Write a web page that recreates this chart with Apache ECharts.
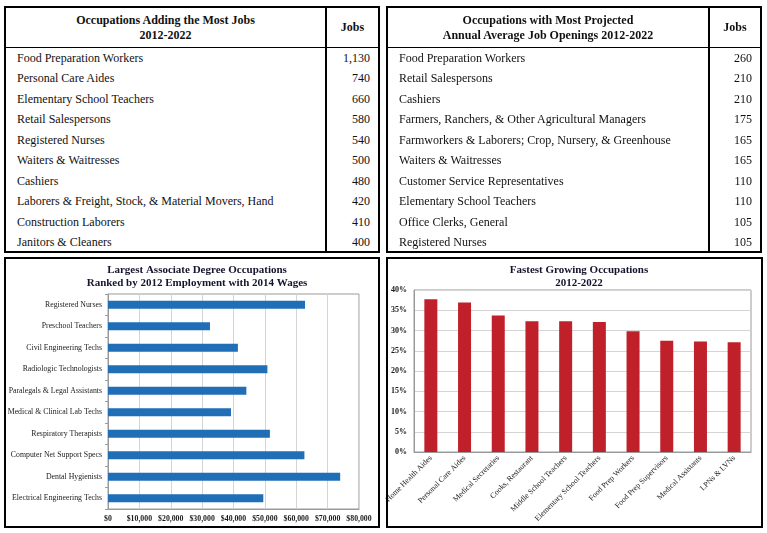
<!DOCTYPE html>
<html>
<head>
<meta charset="utf-8">
<script src="https://cdn.jsdelivr.net/npm/echarts/dist/echarts.min.js"></script>
<style>
  html, body { margin:0; padding:0; background:#fff; }
  body { width:767px; height:533px; position:relative; overflow:hidden; font-family:'Liberation Serif','Times New Roman',serif; }
  #chart { position:absolute; left:0; top:0; width:767px; height:533px; }
  .box { position:absolute; border:2px solid #000; box-sizing:border-box; pointer-events:none; }
  .tbl { position:absolute; border:2px solid #000; box-sizing:border-box; color:#111; background:#fff; }
  .tbl .hdr { position:absolute; left:0; top:0; right:0; height:39px; border-bottom:1px solid #000; }
  .tbl .htitle { position:absolute; top:0; height:39px; display:flex; align-items:center; justify-content:center; text-align:center; font-weight:bold; font-size:12px; line-height:15px; }
  .tbl .div { position:absolute; top:0; bottom:0; width:2px; background:#000; }
  .tbl .row { position:absolute; left:0; right:0; height:20.5px; line-height:20.5px; font-size:12px; }
  .tbl .row .n { position:absolute; left:11px; white-space:nowrap; }
  .tbl .row .v { position:absolute; right:8px; white-space:nowrap; }
</style>
</head>
<body>
<div id="chart"></div>
<script>
// ---- Data ----
const addTitle = ['Occupations Adding the Most Jobs', '2012-2022'];
const addNames = ['Food Preparation Workers','Personal Care Aides','Elementary School Teachers','Retail Salespersons','Registered Nurses','Waiters & Waitresses','Cashiers','Laborers & Freight, Stock, & Material Movers, Hand','Construction Laborers','Janitors & Cleaners'];
const addJobs = [1130, 740, 660, 580, 540, 500, 480, 420, 410, 400];

const openTitle = ['Occupations with Most Projected', 'Annual Average Job Openings 2012-2022'];
const openNames = ['Food Preparation Workers','Retail Salespersons','Cashiers','Farmers, Ranchers, & Other Agricultural Managers','Farmworkers & Laborers; Crop, Nursery, & Greenhouse','Waiters & Waitresses','Customer Service Representatives','Elementary School Teachers','Office Clerks, General','Registered Nurses'];
const openJobs = [260, 210, 210, 175, 165, 165, 110, 110, 105, 105];

const wageTitle = 'Largest Associate Degree Occupations\nRanked by 2012 Employment with 2014 Wages';
const wageCats = ['Registered Nurses','Preschool Teachers','Civil Engineering Techs','Radiologic Technologists','Paralegals & Legal Assistants','Medical & Clinical Lab Techs','Respiratory Therapists','Computer Net Support Specs','Dental Hygienists','Electrical Engineering Techs'];
const wageVals = [62800, 32500, 41400, 50800, 44100, 39200, 51600, 62600, 74000, 49500];

const growthTitle = 'Fastest Growing Occupations\n2012-2022';
const growthCats = ['Home Health Aides','Personal Care Aides','Medical Secretaries','Cooks, Restaurant','Middle School Teachers','Elementary School Teachers','Food Prep Workers','Food Prep Supervisors','Medical Assistants','LPNs & LVNs'];
const growthVals = [37.7, 36.9, 33.7, 32.3, 32.3, 32.1, 29.8, 27.5, 27.3, 27.1];

// ---- Tables (HTML) ----
function buildTable(left, top, width, height, divX, title, names, vals) {
  const t = document.createElement('div');
  t.className = 'tbl';
  Object.assign(t.style, {left:left+'px', top:top+'px', width:width+'px', height:height+'px'});
  const inner = width - 4;
  const hdr = document.createElement('div'); hdr.className = 'hdr'; t.appendChild(hdr);
  const ht = document.createElement('div'); ht.className = 'htitle';
  ht.style.left = '0px'; ht.style.width = divX + 'px';
  ht.innerHTML = title.join('<br>'); t.appendChild(ht);
  const hj = document.createElement('div'); hj.className = 'htitle';
  hj.style.left = (divX + 2) + 'px'; hj.style.width = (inner - divX - 2) + 'px';
  hj.textContent = 'Jobs'; t.appendChild(hj);
  const d = document.createElement('div'); d.className = 'div'; d.style.left = divX + 'px'; t.appendChild(d);
  names.forEach((n, i) => {
    const r = document.createElement('div'); r.className = 'row';
    r.style.top = (39.5 + i * 20.5) + 'px';
    const sn = document.createElement('span'); sn.className = 'n'; sn.textContent = n;
    const sv = document.createElement('span'); sv.className = 'v'; sv.textContent = vals[i].toLocaleString('en-US');
    r.appendChild(sn); r.appendChild(sv); t.appendChild(r);
  });
  document.body.appendChild(t);
}
buildTable(4, 6, 376, 247, 319, addTitle, addNames, addJobs);
buildTable(386, 6, 376, 247, 320, openTitle, openNames, openJobs);

['4,257,376,271', '386,257,377,271'].forEach(s => {
  const [l, tp, w, h] = s.split(',').map(Number);
  const b = document.createElement('div'); b.className = 'box';
  Object.assign(b.style, {left:l+'px', top:tp+'px', width:w+'px', height:h+'px'});
  document.body.appendChild(b);
});

// ---- Charts ----
const FF = "'Liberation Serif','Times New Roman',serif";
const TXT = '#1a1a1a';
const GRID = '#d4d4d4';
const AX = '#9a9a9a';
const chart = echarts.init(document.getElementById('chart'), null, {renderer:'canvas'});
chart.setOption({
  animation: false,
  backgroundColor: 'transparent',
  title: [
    {text: wageTitle, left: 192, top: 259, textAlign: 'center',
     textStyle: {fontFamily: FF, fontSize: 11, fontWeight: 'bold', color: '#14142e', lineHeight: 12.5}},
    {text: growthTitle, left: 574, top: 259, textAlign: 'center',
     textStyle: {fontFamily: FF, fontSize: 11, fontWeight: 'bold', color: '#14142e', lineHeight: 12.5}}
  ],
  grid: [
    {left: 108, top: 294, width: 251, height: 215, show: true, borderColor: AX, borderWidth: 1, backgroundColor: 'transparent'},
    {left: 414, top: 290, width: 337, height: 162, show: true, borderColor: AX, borderWidth: 1, backgroundColor: 'transparent'}
  ],
  xAxis: [
    {gridIndex: 0, type: 'value', min: 0, max: 80000, interval: 10000,
     axisLabel: {formatter: v => '$' + v.toLocaleString('en-US'), fontSize: 7.8, fontWeight: 'bold', fontFamily: FF, color: TXT, margin: 6},
     axisLine: {show: true, lineStyle: {color: AX}}, axisTick: {show: false},
     splitLine: {show: true, lineStyle: {color: GRID}}},
    {gridIndex: 1, type: 'category', data: growthCats,
     axisLabel: {rotate: 45, interval: 0, fontSize: 7.8, fontFamily: FF, color: TXT, margin: 5},
     axisLine: {show: true, lineStyle: {color: AX}}, axisTick: {show: false}}
  ],
  yAxis: [
    {gridIndex: 0, type: 'category', data: wageCats, inverse: true,
     axisLabel: {fontSize: 7.8, fontFamily: FF, color: TXT, margin: 6},
     axisLine: {show: true, lineStyle: {color: AX}},
     axisTick: {show: true, length: 3, lineStyle: {color: AX}}},
    {gridIndex: 1, type: 'value', min: 0, max: 40, interval: 5,
     axisLabel: {formatter: v => v + '%', fontSize: 8, fontWeight: 'bold', fontFamily: FF, color: TXT, margin: 7},
     axisLine: {show: true, lineStyle: {color: AX}}, axisTick: {show: false},
     splitLine: {show: true, lineStyle: {color: GRID}}}
  ],
  series: [
    {type: 'bar', xAxisIndex: 0, yAxisIndex: 0, data: wageVals, barWidth: 8,
     itemStyle: {color: '#1f6eb6'}},
    {type: 'bar', xAxisIndex: 1, yAxisIndex: 1, data: growthVals, barWidth: 13,
     itemStyle: {color: '#c0202a'}}
  ]
});
</script>
</body>
</html>
